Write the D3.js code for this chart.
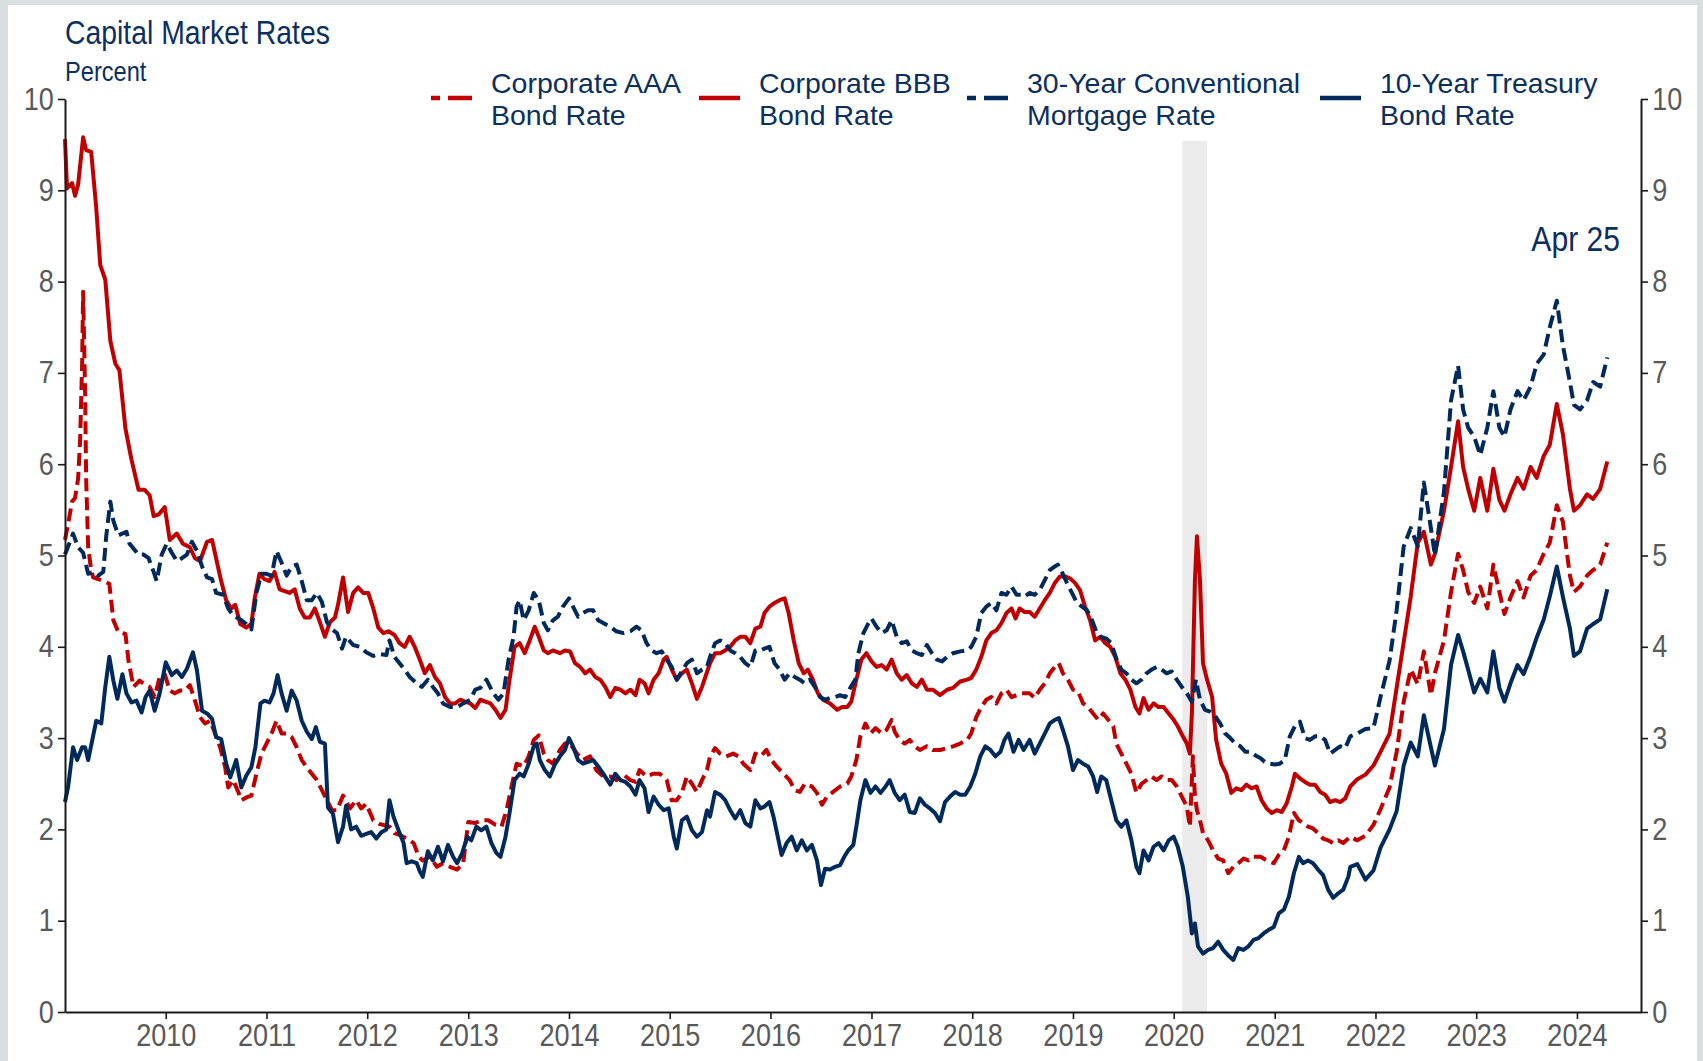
<!DOCTYPE html>
<html>
<head>
<meta charset="utf-8">
<title>Capital Market Rates</title>
<script src="https://cdn.jsdelivr.net/npm/d3@7"></script>
<style>
  html, body { margin: 0; padding: 0; background: #d9dfdf; }
  svg { display: block; font-family: "Liberation Sans", Arial, Helvetica, sans-serif; }
</style>
</head>
<body>
<svg id="chart" width="1703" height="1061"></svg>
<script>
// ---- Data: [decimal year, percent] ----
const yearTicks = [2010, 2011, 2012, 2013, 2014, 2015, 2016, 2017, 2018, 2019, 2020, 2021, 2022, 2023, 2024];
const valueTicks = [0, 1, 2, 3, 4, 5, 6, 7, 8, 9, 10];
const recessions = [["2020-02-01", "2020-05-01"]];
const lastObservation = "Apr 25";

const aaaRate = [
  [2009.00,5.17],[2009.03,5.34],[2009.07,5.59],[2009.10,5.63],[2009.13,5.84],[2009.15,6.26],[2009.17,7.10],[2009.18,7.89],[2009.20,6.76],[2009.21,5.84],[2009.23,5.09],[2009.26,4.84],[2009.28,4.76],[2009.36,4.73],[2009.44,4.69],[2009.48,4.29],[2009.53,4.16],[2009.60,4.14],[2009.63,3.85],[2009.68,3.56],[2009.74,3.63],[2009.79,3.59],[2009.84,3.56],[2009.89,3.45],[2009.94,3.67],[2009.99,3.70],
  [2010.04,3.52],[2010.09,3.49],[2010.14,3.52],[2010.19,3.52],[2010.24,3.58],[2010.29,3.41],[2010.34,3.23],[2010.39,3.16],[2010.44,3.19],[2010.49,3.05],[2010.54,2.90],[2010.59,2.68],[2010.62,2.46],[2010.67,2.54],[2010.72,2.41],[2010.75,2.32],[2010.80,2.35],[2010.85,2.37],[2010.90,2.61],[2010.95,2.83],
  [2011.00,2.94],[2011.05,3.05],[2011.10,3.19],[2011.15,3.05],[2011.20,3.05],[2011.25,3.01],[2011.30,2.90],[2011.35,2.76],[2011.40,2.68],[2011.45,2.61],[2011.50,2.54],[2011.55,2.43],[2011.60,2.32],[2011.65,2.21],[2011.70,2.21],[2011.76,2.37],[2011.83,2.23],[2011.89,2.32],[2011.94,2.23],[2011.99,2.28],
  [2012.06,2.10],[2012.12,2.06],[2012.22,2.03],[2012.27,1.96],[2012.32,1.94],[2012.39,1.90],[2012.46,1.85],[2012.51,1.70],[2012.55,1.66],[2012.62,1.70],[2012.69,1.59],[2012.75,1.63],[2012.82,1.59],[2012.89,1.56],[2012.95,1.63],
  [2013.00,2.08],[2013.07,2.07],[2013.13,2.10],[2013.20,2.10],[2013.27,2.05],[2013.33,2.03],[2013.38,2.21],[2013.43,2.47],[2013.48,2.72],[2013.55,2.69],[2013.60,2.80],[2013.65,2.98],[2013.70,3.03],[2013.75,2.83],[2013.79,2.76],[2013.84,2.72],[2013.91,2.87],[2013.96,2.94],
  [2014.01,2.94],[2014.08,2.83],[2014.14,2.76],[2014.21,2.80],[2014.27,2.65],[2014.34,2.58],[2014.41,2.58],[2014.47,2.54],[2014.54,2.60],[2014.61,2.54],[2014.66,2.52],[2014.70,2.65],[2014.77,2.58],[2014.84,2.61],[2014.90,2.61],[2014.97,2.54],
  [2015.02,2.32],[2015.07,2.32],[2015.12,2.40],[2015.17,2.58],[2015.22,2.50],[2015.27,2.41],[2015.32,2.54],[2015.37,2.65],[2015.40,2.80],[2015.45,2.89],[2015.50,2.83],[2015.56,2.80],[2015.63,2.83],[2015.68,2.80],[2015.73,2.72],[2015.80,2.65],[2015.85,2.83],[2015.90,2.80],[2015.96,2.87],
  [2016.01,2.76],[2016.06,2.69],[2016.13,2.61],[2016.19,2.54],[2016.24,2.43],[2016.29,2.41],[2016.34,2.50],[2016.41,2.47],[2016.46,2.40],[2016.51,2.27],[2016.56,2.36],[2016.62,2.41],[2016.69,2.47],[2016.76,2.50],[2016.80,2.58],[2016.85,2.76],[2016.89,3.02],[2016.94,3.16],[2016.99,3.05],
  [2017.04,3.11],[2017.10,3.05],[2017.15,3.09],[2017.20,3.20],[2017.23,3.07],[2017.28,2.98],[2017.33,2.94],[2017.38,2.98],[2017.43,2.91],[2017.48,2.87],[2017.55,2.91],[2017.61,2.87],[2017.68,2.87],[2017.75,2.89],[2017.81,2.91],[2017.88,2.94],[2017.95,2.98],[2017.99,3.05],
  [2018.04,3.23],[2018.09,3.34],[2018.14,3.42],[2018.19,3.45],[2018.24,3.38],[2018.29,3.49],[2018.34,3.53],[2018.39,3.45],[2018.44,3.47],[2018.49,3.49],[2018.57,3.49],[2018.62,3.44],[2018.67,3.53],[2018.72,3.60],[2018.77,3.71],[2018.82,3.78],[2018.86,3.82],[2018.90,3.71],[2018.95,3.64],
  [2019.00,3.53],[2019.05,3.51],[2019.10,3.38],[2019.15,3.34],[2019.20,3.27],[2019.25,3.20],[2019.30,3.27],[2019.35,3.20],[2019.40,3.13],[2019.43,2.94],[2019.48,2.83],[2019.53,2.72],[2019.58,2.61],[2019.63,2.40],[2019.68,2.50],[2019.73,2.54],[2019.78,2.58],[2019.83,2.54],[2019.88,2.58],[2019.93,2.54],[2019.98,2.54],
  [2020.03,2.47],[2020.08,2.36],[2020.13,2.25],[2020.16,2.03],[2020.19,2.80],[2020.21,2.36],[2020.23,2.21],[2020.26,2.10],[2020.29,1.96],[2020.34,1.88],[2020.39,1.77],[2020.44,1.68],[2020.49,1.66],[2020.54,1.52],[2020.59,1.59],[2020.64,1.63],[2020.69,1.68],[2020.74,1.66],[2020.79,1.70],[2020.86,1.70],[2020.92,1.66],[2020.99,1.63],
  [2021.04,1.72],[2021.09,1.77],[2021.14,1.92],[2021.19,2.18],[2021.24,2.10],[2021.28,2.07],[2021.33,2.03],[2021.38,2.01],[2021.43,1.96],[2021.48,1.90],[2021.53,1.88],[2021.58,1.85],[2021.63,1.88],[2021.68,1.85],[2021.75,1.92],[2021.82,1.88],[2021.90,1.93],[2021.98,2.05],
  [2022.05,2.22],[2022.14,2.46],[2022.21,2.85],[2022.28,3.40],[2022.35,3.75],[2022.42,3.59],[2022.48,3.95],[2022.55,3.47],[2022.59,3.71],[2022.68,4.07],[2022.75,4.60],[2022.82,5.02],[2022.87,4.84],[2022.92,4.60],[2022.98,4.48],
  [2023.04,4.66],[2023.11,4.42],[2023.17,4.90],[2023.23,4.60],[2023.28,4.36],[2023.34,4.54],[2023.41,4.72],[2023.47,4.54],[2023.54,4.78],[2023.60,4.84],[2023.67,5.02],[2023.73,5.14],[2023.80,5.55],[2023.86,5.37],[2023.93,4.78],[2023.97,4.60],
  [2024.03,4.66],[2024.10,4.78],[2024.16,4.84],[2024.23,4.90],[2024.30,5.14]
];

const bbbRate = [
  [2009.00,9.56],[2009.02,9.02],[2009.07,9.08],[2009.10,8.94],[2009.13,9.06],[2009.18,9.58],[2009.21,9.44],[2009.26,9.42],[2009.31,8.81],[2009.35,8.18],[2009.40,8.02],[2009.45,7.35],[2009.50,7.10],[2009.54,7.03],[2009.60,6.39],[2009.66,6.05],[2009.73,5.72],[2009.79,5.72],[2009.84,5.66],[2009.88,5.43],[2009.93,5.45],[2009.99,5.53],
  [2010.04,5.17],[2010.11,5.24],[2010.17,5.13],[2010.24,5.09],[2010.29,4.97],[2010.34,4.94],[2010.41,5.15],[2010.46,5.17],[2010.50,4.97],[2010.55,4.72],[2010.60,4.51],[2010.65,4.42],[2010.69,4.46],[2010.74,4.25],[2010.80,4.21],[2010.85,4.25],[2010.88,4.51],[2010.93,4.80],[2010.98,4.74],
  [2011.03,4.72],[2011.08,4.82],[2011.13,4.63],[2011.18,4.61],[2011.23,4.59],[2011.28,4.63],[2011.33,4.42],[2011.38,4.32],[2011.43,4.32],[2011.48,4.42],[2011.53,4.27],[2011.58,4.11],[2011.63,4.27],[2011.68,4.32],[2011.71,4.46],[2011.76,4.76],[2011.81,4.38],[2011.86,4.59],[2011.91,4.65],[2011.96,4.59],
  [2012.01,4.59],[2012.06,4.42],[2012.11,4.21],[2012.16,4.15],[2012.21,4.17],[2012.27,4.13],[2012.32,4.04],[2012.37,4.00],[2012.42,4.11],[2012.47,4.00],[2012.52,3.86],[2012.57,3.71],[2012.62,3.80],[2012.67,3.67],[2012.72,3.60],[2012.77,3.45],[2012.82,3.38],[2012.87,3.38],[2012.92,3.42],[2012.97,3.40],
  [2013.02,3.38],[2013.07,3.33],[2013.12,3.42],[2013.17,3.40],[2013.22,3.38],[2013.27,3.31],[2013.32,3.22],[2013.37,3.31],[2013.41,3.64],[2013.46,4.00],[2013.51,4.04],[2013.56,3.93],[2013.61,4.07],[2013.66,4.22],[2013.70,4.11],[2013.75,3.96],[2013.79,3.93],[2013.84,3.96],[2013.91,3.93],[2013.96,3.96],
  [2014.01,3.95],[2014.06,3.82],[2014.11,3.78],[2014.16,3.71],[2014.21,3.75],[2014.26,3.67],[2014.31,3.64],[2014.36,3.56],[2014.41,3.45],[2014.46,3.55],[2014.51,3.53],[2014.56,3.49],[2014.61,3.53],[2014.66,3.47],[2014.70,3.64],[2014.75,3.60],[2014.79,3.49],[2014.84,3.64],[2014.89,3.71],[2014.94,3.86],[2014.97,3.89],
  [2015.02,3.75],[2015.07,3.64],[2015.12,3.71],[2015.17,3.75],[2015.22,3.60],[2015.27,3.43],[2015.32,3.56],[2015.40,3.82],[2015.45,3.93],[2015.50,3.93],[2015.55,3.96],[2015.60,4.00],[2015.65,4.07],[2015.70,4.11],[2015.75,4.11],[2015.80,4.04],[2015.85,4.20],[2015.90,4.22],[2015.94,4.37],[2015.99,4.44],
  [2016.04,4.48],[2016.09,4.51],[2016.14,4.53],[2016.18,4.37],[2016.23,4.07],[2016.28,3.82],[2016.33,3.71],[2016.37,3.75],[2016.42,3.64],[2016.47,3.49],[2016.52,3.42],[2016.59,3.38],[2016.66,3.31],[2016.71,3.34],[2016.76,3.34],[2016.80,3.40],[2016.85,3.64],[2016.90,3.86],[2016.95,3.93],
  [2017.00,3.84],[2017.05,3.78],[2017.10,3.80],[2017.15,3.75],[2017.20,3.86],[2017.25,3.71],[2017.30,3.64],[2017.35,3.69],[2017.40,3.60],[2017.45,3.56],[2017.50,3.64],[2017.55,3.53],[2017.61,3.53],[2017.68,3.47],[2017.75,3.53],[2017.81,3.55],[2017.88,3.62],[2017.95,3.64],[2017.99,3.66],
  [2018.04,3.75],[2018.09,3.89],[2018.14,4.07],[2018.19,4.15],[2018.24,4.18],[2018.29,4.26],[2018.34,4.37],[2018.39,4.42],[2018.43,4.31],[2018.47,4.42],[2018.52,4.38],[2018.57,4.38],[2018.62,4.33],[2018.67,4.42],[2018.72,4.51],[2018.77,4.59],[2018.82,4.70],[2018.87,4.77],[2018.92,4.77],[2018.97,4.75],
  [2019.02,4.70],[2019.07,4.62],[2019.12,4.44],[2019.17,4.29],[2019.22,4.07],[2019.27,4.11],[2019.32,4.04],[2019.37,4.00],[2019.42,3.89],[2019.47,3.71],[2019.52,3.64],[2019.57,3.53],[2019.62,3.34],[2019.66,3.27],[2019.70,3.44],[2019.75,3.31],[2019.80,3.38],[2019.85,3.34],[2019.90,3.34],[2019.95,3.27],
  [2020.00,3.20],[2020.04,3.13],[2020.09,3.02],[2020.13,2.94],[2020.16,2.83],[2020.18,3.27],[2020.21,4.73],[2020.23,5.21],[2020.26,4.73],[2020.29,3.82],[2020.33,3.64],[2020.38,3.45],[2020.42,2.98],[2020.47,2.72],[2020.52,2.61],[2020.57,2.40],[2020.62,2.45],[2020.67,2.43],[2020.72,2.49],[2020.77,2.45],[2020.82,2.47],[2020.87,2.32],[2020.92,2.23],[2020.97,2.18],
  [2021.02,2.21],[2021.07,2.19],[2021.12,2.29],[2021.17,2.47],[2021.20,2.61],[2021.25,2.56],[2021.30,2.52],[2021.35,2.49],[2021.40,2.49],[2021.45,2.41],[2021.50,2.38],[2021.55,2.30],[2021.60,2.32],[2021.65,2.30],[2021.70,2.34],[2021.75,2.47],[2021.82,2.55],[2021.90,2.60],[2021.98,2.70],
  [2022.05,2.85],[2022.14,3.05],[2022.21,3.55],[2022.28,4.05],[2022.35,4.55],[2022.42,5.14],[2022.48,5.26],[2022.55,4.90],[2022.59,5.02],[2022.68,5.49],[2022.75,5.97],[2022.82,6.47],[2022.87,5.97],[2022.92,5.73],[2022.98,5.49],
  [2023.04,5.85],[2023.11,5.49],[2023.17,5.95],[2023.23,5.61],[2023.28,5.49],[2023.34,5.67],[2023.41,5.85],[2023.47,5.73],[2023.54,5.97],[2023.60,5.85],[2023.67,6.09],[2023.73,6.21],[2023.80,6.66],[2023.86,6.33],[2023.93,5.73],[2023.97,5.49],
  [2024.03,5.55],[2024.10,5.67],[2024.16,5.62],[2024.23,5.73],[2024.30,6.03]
];

const mortgageRate = [
  [2009.00,5.01],[2009.08,5.24],[2009.13,5.09],[2009.18,5.03],[2009.23,4.80],[2009.28,4.82],[2009.33,4.78],[2009.38,4.82],[2009.41,5.22],[2009.45,5.59],[2009.48,5.38],[2009.53,5.22],[2009.61,5.26],[2009.64,5.13],[2009.73,5.01],[2009.78,5.01],[2009.83,4.97],[2009.88,4.82],[2009.91,4.72],[2009.96,5.01],
  [2010.01,5.13],[2010.06,5.03],[2010.11,4.94],[2010.16,4.97],[2010.21,5.01],[2010.26,5.15],[2010.31,5.05],[2010.36,4.88],[2010.41,4.76],[2010.46,4.74],[2010.50,4.59],[2010.57,4.57],[2010.62,4.42],[2010.67,4.34],[2010.74,4.30],[2010.80,4.25],[2010.85,4.19],[2010.90,4.59],[2010.95,4.80],
  [2011.00,4.80],[2011.05,4.78],[2011.10,5.05],[2011.15,4.92],[2011.20,4.78],[2011.25,4.88],[2011.30,4.90],[2011.35,4.72],[2011.40,4.51],[2011.45,4.51],[2011.50,4.59],[2011.55,4.49],[2011.60,4.27],[2011.65,4.19],[2011.70,4.15],[2011.75,3.98],[2011.79,4.11],[2011.86,4.02],[2011.93,4.00],[2011.99,3.94],
  [2012.06,3.90],[2012.12,3.92],[2012.19,3.91],[2012.22,4.07],[2012.27,3.89],[2012.32,3.82],[2012.37,3.75],[2012.42,3.67],[2012.49,3.60],[2012.54,3.56],[2012.60,3.64],[2012.65,3.56],[2012.70,3.49],[2012.75,3.38],[2012.82,3.34],[2012.89,3.34],[2012.95,3.38],
  [2013.02,3.42],[2013.07,3.53],[2013.12,3.55],[2013.18,3.64],[2013.25,3.49],[2013.30,3.42],[2013.35,3.49],[2013.40,3.86],[2013.45,4.11],[2013.48,4.44],[2013.51,4.51],[2013.55,4.29],[2013.60,4.40],[2013.65,4.59],[2013.70,4.51],[2013.75,4.26],[2013.79,4.18],[2013.84,4.29],[2013.89,4.33],[2013.94,4.44],
  [2014.00,4.53],[2014.04,4.44],[2014.09,4.33],[2014.14,4.37],[2014.19,4.40],[2014.24,4.40],[2014.29,4.29],[2014.34,4.26],[2014.41,4.22],[2014.47,4.17],[2014.54,4.15],[2014.61,4.17],[2014.67,4.22],[2014.72,4.18],[2014.77,4.04],[2014.82,3.96],[2014.87,3.93],[2014.92,3.95],[2014.97,3.86],
  [2015.02,3.78],[2015.07,3.64],[2015.12,3.73],[2015.17,3.82],[2015.22,3.86],[2015.27,3.71],[2015.32,3.75],[2015.37,3.78],[2015.40,3.89],[2015.45,4.04],[2015.50,4.07],[2015.55,4.04],[2015.60,3.96],[2015.65,3.93],[2015.70,3.89],[2015.75,3.82],[2015.80,3.78],[2015.85,3.96],[2015.90,3.96],[2015.94,3.98],[2015.99,4.00],
  [2016.04,3.82],[2016.09,3.75],[2016.14,3.64],[2016.19,3.71],[2016.24,3.67],[2016.29,3.64],[2016.34,3.60],[2016.39,3.64],[2016.44,3.56],[2016.49,3.45],[2016.54,3.42],[2016.59,3.44],[2016.64,3.45],[2016.69,3.47],[2016.74,3.45],[2016.79,3.55],[2016.84,3.64],[2016.87,3.93],[2016.92,4.15],[2016.97,4.26],
  [2017.00,4.31],[2017.05,4.22],[2017.10,4.15],[2017.15,4.18],[2017.20,4.29],[2017.25,4.11],[2017.30,4.04],[2017.35,4.06],[2017.40,3.96],[2017.45,3.93],[2017.50,3.91],[2017.55,4.02],[2017.60,3.93],[2017.65,3.86],[2017.70,3.84],[2017.75,3.89],[2017.81,3.93],[2017.88,3.95],[2017.95,3.96],[2017.99,4.00],
  [2018.04,4.11],[2018.09,4.37],[2018.14,4.44],[2018.19,4.48],[2018.24,4.40],[2018.29,4.59],[2018.34,4.57],[2018.39,4.66],[2018.44,4.57],[2018.49,4.57],[2018.52,4.55],[2018.57,4.59],[2018.62,4.57],[2018.67,4.62],[2018.72,4.73],[2018.77,4.84],[2018.82,4.88],[2018.85,4.90],[2018.89,4.82],[2018.94,4.70],[2018.99,4.59],
  [2019.04,4.48],[2019.09,4.44],[2019.14,4.40],[2019.19,4.29],[2019.23,4.17],[2019.28,4.11],[2019.33,4.09],[2019.38,4.04],[2019.43,3.87],[2019.48,3.75],[2019.53,3.71],[2019.58,3.64],[2019.63,3.60],[2019.68,3.64],[2019.73,3.71],[2019.78,3.75],[2019.83,3.78],[2019.88,3.75],[2019.93,3.71],[2019.98,3.73],
  [2020.03,3.64],[2020.08,3.56],[2020.13,3.49],[2020.18,3.40],[2020.22,3.64],[2020.26,3.42],[2020.31,3.31],[2020.36,3.29],[2020.41,3.24],[2020.46,3.16],[2020.51,3.05],[2020.56,3.00],[2020.61,2.94],[2020.66,2.91],[2020.71,2.85],[2020.76,2.85],[2020.81,2.81],[2020.86,2.78],[2020.90,2.74],[2020.95,2.72],
  [2021.00,2.71],[2021.05,2.72],[2021.10,2.76],[2021.15,3.02],[2021.20,3.13],[2021.25,3.18],[2021.30,3.00],[2021.35,2.98],[2021.40,3.02],[2021.45,3.02],[2021.50,2.98],[2021.55,2.83],[2021.60,2.87],[2021.65,2.91],[2021.70,2.89],[2021.75,3.02],[2021.82,3.05],[2021.90,3.10],[2021.98,3.11],
  [2022.05,3.45],[2022.14,3.85],[2022.21,4.40],[2022.28,5.10],[2022.35,5.30],[2022.42,5.10],[2022.48,5.80],[2022.55,5.30],[2022.59,5.00],[2022.68,5.70],[2022.75,6.70],[2022.82,7.08],[2022.87,6.60],[2022.92,6.40],[2022.98,6.30],
  [2023.04,6.10],[2023.11,6.40],[2023.17,6.80],[2023.23,6.40],[2023.28,6.30],[2023.34,6.60],[2023.41,6.80],[2023.47,6.70],[2023.54,6.85],[2023.60,7.10],[2023.67,7.20],[2023.73,7.50],[2023.80,7.79],[2023.86,7.30],[2023.93,6.90],[2023.97,6.65],
  [2024.03,6.60],[2024.10,6.70],[2024.16,6.90],[2024.23,6.85],[2024.30,7.17]
];

const treasuryRate = [
  [2009.00,2.30],[2009.03,2.46],[2009.08,2.90],[2009.12,2.76],[2009.17,2.90],[2009.20,2.90],[2009.23,2.76],[2009.26,2.92],[2009.31,3.19],[2009.36,3.16],[2009.40,3.56],[2009.44,3.89],[2009.48,3.63],[2009.52,3.43],[2009.57,3.70],[2009.61,3.49],[2009.66,3.39],[2009.71,3.41],[2009.76,3.28],[2009.80,3.45],[2009.84,3.52],[2009.89,3.30],[2009.94,3.49],
  [2010.00,3.83],[2010.06,3.69],[2010.11,3.74],[2010.16,3.67],[2010.21,3.76],[2010.27,3.94],[2010.31,3.74],[2010.36,3.30],[2010.41,3.27],[2010.46,3.21],[2010.50,3.01],[2010.55,2.99],[2010.60,2.72],[2010.64,2.57],[2010.70,2.76],[2010.75,2.46],[2010.80,2.59],[2010.85,2.68],[2010.89,2.90],[2010.94,3.38],[2010.98,3.41],
  [2011.03,3.39],[2011.07,3.49],[2011.11,3.69],[2011.15,3.49],[2011.20,3.30],[2011.25,3.52],[2011.30,3.41],[2011.35,3.19],[2011.40,3.07],[2011.45,2.99],[2011.49,3.12],[2011.53,2.96],[2011.58,2.94],[2011.61,2.24],[2011.66,2.17],[2011.71,1.86],[2011.76,2.03],[2011.79,2.26],[2011.84,2.00],[2011.89,2.03],[2011.94,1.93],[2011.99,1.95],
  [2012.04,1.97],[2012.09,1.90],[2012.14,1.97],[2012.19,2.00],[2012.22,2.32],[2012.26,2.14],[2012.31,1.99],[2012.36,1.85],[2012.39,1.63],[2012.44,1.65],[2012.49,1.63],[2012.52,1.54],[2012.55,1.48],[2012.60,1.76],[2012.65,1.66],[2012.70,1.81],[2012.75,1.65],[2012.80,1.83],[2012.85,1.70],[2012.89,1.63],[2012.94,1.74],[2012.99,1.92],
  [2013.03,1.88],[2013.08,2.03],[2013.13,1.99],[2013.18,2.03],[2013.23,1.85],[2013.28,1.74],[2013.32,1.70],[2013.37,1.92],[2013.41,2.18],[2013.46,2.54],[2013.51,2.61],[2013.55,2.58],[2013.60,2.72],[2013.65,2.91],[2013.68,2.94],[2013.71,2.76],[2013.76,2.65],[2013.81,2.58],[2013.86,2.71],[2013.91,2.80],[2013.96,2.87],
  [2014.00,3.00],[2014.04,2.91],[2014.09,2.76],[2014.14,2.72],[2014.19,2.74],[2014.24,2.76],[2014.29,2.69],[2014.34,2.61],[2014.41,2.49],[2014.46,2.61],[2014.51,2.54],[2014.56,2.52],[2014.61,2.47],[2014.66,2.38],[2014.70,2.54],[2014.75,2.45],[2014.79,2.19],[2014.84,2.36],[2014.89,2.27],[2014.94,2.21],[2014.99,2.23],
  [2015.04,1.92],[2015.07,1.79],[2015.12,2.10],[2015.17,2.14],[2015.22,1.99],[2015.27,1.92],[2015.32,1.97],[2015.37,2.21],[2015.40,2.14],[2015.45,2.41],[2015.50,2.38],[2015.55,2.32],[2015.60,2.21],[2015.65,2.12],[2015.70,2.21],[2015.75,2.07],[2015.80,2.03],[2015.85,2.32],[2015.90,2.23],[2015.94,2.25],[2015.99,2.30],
  [2016.03,2.14],[2016.08,1.88],[2016.11,1.72],[2016.16,1.85],[2016.21,1.92],[2016.26,1.77],[2016.31,1.88],[2016.36,1.77],[2016.41,1.83],[2016.46,1.66],[2016.50,1.39],[2016.54,1.57],[2016.59,1.56],[2016.64,1.59],[2016.69,1.61],[2016.73,1.70],[2016.77,1.77],[2016.82,1.83],[2016.85,2.03],[2016.89,2.32],[2016.94,2.54],[2016.99,2.40],
  [2017.04,2.47],[2017.09,2.40],[2017.14,2.47],[2017.18,2.54],[2017.23,2.40],[2017.28,2.32],[2017.33,2.38],[2017.38,2.19],[2017.43,2.18],[2017.48,2.34],[2017.53,2.27],[2017.58,2.23],[2017.63,2.18],[2017.68,2.09],[2017.73,2.30],[2017.78,2.36],[2017.83,2.41],[2017.88,2.38],[2017.93,2.38],[2017.98,2.47],
  [2018.03,2.61],[2018.08,2.80],[2018.13,2.91],[2018.18,2.87],[2018.23,2.80],[2018.28,2.85],[2018.32,2.98],[2018.36,3.05],[2018.41,2.85],[2018.46,2.98],[2018.51,2.87],[2018.57,2.98],[2018.62,2.83],[2018.67,2.94],[2018.72,3.05],[2018.77,3.16],[2018.82,3.20],[2018.86,3.22],[2018.90,3.09],[2018.95,2.91],
  [2019.00,2.65],[2019.05,2.76],[2019.10,2.72],[2019.15,2.69],[2019.20,2.58],[2019.24,2.41],[2019.28,2.58],[2019.33,2.54],[2019.38,2.32],[2019.43,2.10],[2019.48,2.03],[2019.53,2.10],[2019.58,1.88],[2019.63,1.59],[2019.66,1.52],[2019.70,1.77],[2019.75,1.66],[2019.80,1.81],[2019.85,1.85],[2019.90,1.77],[2019.95,1.88],
  [2020.00,1.92],[2020.04,1.81],[2020.09,1.59],[2020.14,1.26],[2020.18,0.86],[2020.21,0.97],[2020.24,0.72],[2020.29,0.64],[2020.34,0.68],[2020.39,0.70],[2020.44,0.77],[2020.49,0.68],[2020.54,0.62],[2020.59,0.57],[2020.64,0.70],[2020.69,0.68],[2020.74,0.72],[2020.79,0.79],[2020.84,0.81],[2020.89,0.86],[2020.94,0.90],[2020.99,0.93],
  [2021.04,1.08],[2021.09,1.12],[2021.14,1.26],[2021.19,1.52],[2021.24,1.70],[2021.28,1.63],[2021.33,1.66],[2021.38,1.63],[2021.43,1.56],[2021.48,1.50],[2021.53,1.34],[2021.58,1.25],[2021.63,1.30],[2021.68,1.34],[2021.73,1.48],[2021.75,1.59],[2021.82,1.62],[2021.90,1.45],[2021.98,1.55],
  [2022.05,1.80],[2022.14,2.00],[2022.21,2.20],[2022.28,2.70],[2022.35,2.95],[2022.42,2.80],[2022.48,3.25],[2022.55,2.90],[2022.59,2.70],[2022.68,3.10],[2022.75,3.80],[2022.82,4.13],[2022.87,3.95],[2022.92,3.75],[2022.98,3.50],
  [2023.04,3.65],[2023.11,3.50],[2023.17,3.95],[2023.23,3.55],[2023.28,3.40],[2023.34,3.60],[2023.41,3.80],[2023.47,3.70],[2023.54,3.90],[2023.60,4.10],[2023.67,4.30],[2023.73,4.55],[2023.80,4.88],[2023.86,4.55],[2023.93,4.20],[2023.97,3.90],
  [2024.03,3.95],[2024.10,4.20],[2024.16,4.25],[2024.23,4.30],[2024.30,4.63]
];

const seriesLabels = [
  ["Corporate AAA", "Bond Rate"],
  ["Corporate BBB", "Bond Rate"],
  ["30-Year Conventional", "Mortgage Rate"],
  ["10-Year Treasury", "Bond Rate"]
];

// ---- Styling ----
const RED = "#c00000";
const NAVY = "#002a5c";
const TEXT_NAVY = "#0b2f5f";
const TICK_GRAY = "#595959";
const NARROW = 0.86;   // horizontal squeeze applied to tick and title lettering

const series = [
  { values: aaaRate,      label: seriesLabels[0], color: RED,  dash: "13,6" },
  { values: bbbRate,      label: seriesLabels[1], color: RED,  dash: null },
  { values: mortgageRate, label: seriesLabels[2], color: NAVY, dash: "13,6" },
  { values: treasuryRate, label: seriesLabels[3], color: NAVY, dash: null }
];

// decimal year -> Date
function fromDecimalYear(t) {
  const y = Math.floor(t);
  const a = Date.UTC(y, 0, 1), b = Date.UTC(y + 1, 0, 1);
  return new Date(a + (t - y) * (b - a));
}

const svg = d3.select("#chart");
const W = 1703, H = 1061;
const plot = { left: 65, right: 1641, top: 99, bottom: 1012 };

// panel
svg.append("rect").attr("x", 8).attr("y", 5).attr("width", 1689).attr("height", H - 5).attr("fill", "#ffffff");

const x = d3.scaleUtc()
  .domain([new Date(Date.UTC(2009, 0, 1)), new Date(Date.UTC(2024, 7, 20))])
  .range([plot.left, plot.right]);
const y = d3.scaleLinear().domain([0, 10]).range([plot.bottom, plot.top]);

// recession shading
svg.append("g").selectAll("rect").data(recessions).join("rect")
  .attr("x", d => x(new Date(d[0] + "T00:00:00Z")))
  .attr("width", d => x(new Date(d[1] + "T00:00:00Z")) - x(new Date(d[0] + "T00:00:00Z")))
  .attr("y", 141)
  .attr("height", plot.bottom - 141)
  .attr("fill", "#ebebeb");

// lines
const line = d3.line()
  .x(d => x(fromDecimalYear(d[0])))
  .y(d => y(d[1]));

const lines = svg.append("g");
series.forEach(s => {
  lines.append("path")
    .datum(s.values)
    .attr("d", line)
    .attr("fill", "none")
    .attr("stroke", s.color)
    .attr("stroke-width", 4)
    .attr("stroke-linejoin", "round")
    .attr("stroke-dasharray", s.dash);
});

// axes
function styleAxis(g) {
  g.selectAll(".domain").attr("stroke", "#1a1a1a").attr("stroke-width", 2);
  g.selectAll(".tick line").attr("stroke", "#1a1a1a").attr("stroke-width", 1.6);
  g.selectAll(".tick text")
    .attr("fill", TICK_GRAY)
    .attr("font-size", 31.5)
    .attr("font-family", "'Liberation Sans', Arial, sans-serif")
    .attr("transform", `scale(${NARROW},1)`);
}

svg.append("g")
  .attr("transform", `translate(0,${plot.bottom})`)
  .call(d3.axisBottom(x)
    .tickValues(yearTicks.map(yr => new Date(Date.UTC(yr, 0, 1))))
    .tickFormat(d3.utcFormat("%Y"))
    .tickSize(7).tickSizeOuter(0).tickPadding(5))
  .call(styleAxis);

svg.append("g")
  .attr("transform", `translate(${plot.left},0)`)
  .call(d3.axisLeft(y).tickValues(valueTicks).tickFormat(d3.format("d"))
    .tickSize(7).tickSizeOuter(0).tickPadding(6))
  .call(styleAxis);

svg.append("g")
  .attr("transform", `translate(${plot.right},0)`)
  .call(d3.axisRight(y).tickValues(valueTicks).tickFormat(d3.format("d"))
    .tickSize(7).tickSizeOuter(0).tickPadding(6))
  .call(styleAxis);

// text helper: lettering anchored at (x, y) with a horizontal squeeze
function label(parent, tx, ty, size, squeeze) {
  return parent.append("text")
    .attr("transform", `translate(${tx},${ty}) scale(${squeeze},1)`)
    .attr("font-size", size)
    .attr("fill", TEXT_NAVY);
}

// title block
label(svg, 65, 44, 33, NARROW).text("Capital Market Rates");
label(svg, 65, 81, 27.5, NARROW).text("Percent");

// legend: two-line labels beside a line swatch
const legendX = [431, 699, 967, 1320];
const legend = svg.append("g");
series.forEach((s, i) => {
  const g = legend.append("g").attr("transform", `translate(${legendX[i]},0)`);
  g.append("line")
    .attr("x1", 0).attr("x2", 41).attr("y1", 98).attr("y2", 98)
    .attr("stroke", s.color).attr("stroke-width", 4.5)
    .attr("stroke-dasharray", s.dash ? "9,8,24" : null);
  s.label.forEach((ln, j) => {
    label(g, 60, 93 + j * 32, 28.5, 1).text(ln);
  });
});

// last observation label
label(svg, 1620, 251, 35, NARROW)
  .attr("text-anchor", "end")
  .text(lastObservation);
</script>
</body>
</html>
